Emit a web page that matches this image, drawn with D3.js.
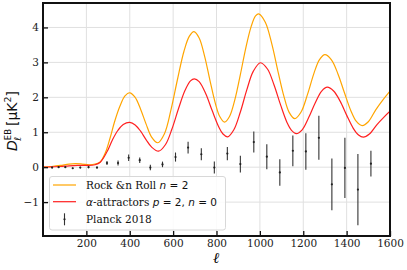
<!DOCTYPE html>
<html>
<head>
<meta charset="utf-8">
<script src="https://cdn.jsdelivr.net/npm/d3@7"></script>
<style>
body { margin: 0; background: #fff; }
svg { display: block; }
.tick text { font-family: "DejaVu Serif", "Liberation Serif", serif; font-size: 10.5px; fill: #222; }
</style>
</head>
<body>
<svg id="chart" width="407" height="270"></svg>
<script>
// multipole l and D_l^EB values
const rockRoll = [
  [0,0.0],[40,0.02],[80,0.05],[120,0.09],[150,0.1],[180,0.09],[215,0.07],[240,0.09],[264,0.15],[288,0.42],
  [310,0.85],[330,1.3],[355,1.75],[378,2.04],[400,2.13],[425,2.0],[450,1.66],[475,1.24],[500,0.87],[529,0.7],
  [560,0.96],[590,1.64],[620,2.51],[650,3.32],[675,3.75],[696,3.88],[720,3.7],[745,3.18],[770,2.48],[795,1.82],
  [815,1.45],[837,1.29],[860,1.45],[885,1.94],[910,2.65],[935,3.41],[960,4.03],[980,4.33],[995,4.39],[1025,4.15],
  [1055,3.53],[1085,2.7],[1110,2.05],[1135,1.57],[1161,1.39],[1190,1.58],[1220,2.09],[1250,2.7],[1275,3.08],[1300,3.22],
  [1330,3.07],[1360,2.67],[1390,2.13],[1420,1.61],[1445,1.31],[1472,1.19],[1500,1.3],[1535,1.65],[1570,1.95],[1600,2.18]
];
const alphaAttr = [
  [0,0.0],[40,0.01],[80,0.02],[120,0.04],[160,0.05],[200,0.05],[240,0.07],[265,0.15],[295,0.44],[320,0.78],
  [345,1.05],[370,1.22],[400,1.28],[425,1.21],[450,1.03],[475,0.79],[500,0.58],[533,0.46],[565,0.65],[595,1.1],
  [625,1.68],[655,2.2],[680,2.47],[698,2.53],[720,2.45],[750,2.11],[780,1.62],[810,1.16],[830,0.95],[852,0.87],
  [880,1.07],[910,1.58],[940,2.22],[970,2.75],[1003,2.99],[1035,2.81],[1065,2.36],[1095,1.79],[1125,1.28],[1145,1.06],
  [1168,0.96],[1195,1.07],[1225,1.42],[1255,1.84],[1285,2.18],[1311,2.29],[1340,2.18],[1370,1.89],[1400,1.49],[1430,1.12],
  [1455,0.92],[1477,0.86],[1505,0.95],[1540,1.22],[1570,1.42],[1600,1.6]
];
// Planck 2018 binned points: l, value, error
const planckL   = [42,72,103,137,172,210,249,295,346,395,446,495,551,611,669,730,790,850,910,972,1032,1092,1152,1212,1272,1332,1392,1452,1512];
const planckVal = [-0.01,0,0,-0.03,-0.01,0,-0.01,0.12,0.12,0.27,0.2,-0.01,0.08,0.29,0.56,0.37,-0.01,0.39,0.09,0.72,0.3,-0.15,0.47,0.45,0.84,-0.49,-0.02,-0.64,0.1];
const planckErr = [0.02,0.02,0.02,0.02,0.02,0.03,0.03,0.06,0.07,0.09,0.08,0.08,0.08,0.13,0.17,0.17,0.17,0.19,0.24,0.3,0.36,0.38,0.44,0.52,0.63,0.74,0.86,1.02,0.37];

const xTicks = [200,400,600,800,1000,1200,1400,1600];
const yTicks = [-1,0,1,2,3,4];

const serif = "'DejaVu Serif', 'Liberation Serif', serif";
const sans = "'DejaVu Sans', sans-serif";

const svg = d3.select("#chart");
const mLeft = 43, mRight = 390, mTop = 3, mBottom = 236;

const x = d3.scaleLinear().domain([0,1600]).range([mLeft,mRight]);
const y = d3.scaleLinear().domain([-1.97,4.7]).range([mBottom,mTop]);

// grid
svg.append("g").selectAll("line").data(xTicks.slice(0,-1)).join("line")
  .attr("x1", d => x(d)).attr("x2", d => x(d)).attr("y1", mTop).attr("y2", mBottom)
  .attr("stroke", "#e0e0e0").attr("stroke-width", 1);
svg.append("g").selectAll("line").data(yTicks).join("line")
  .attr("y1", d => y(d)).attr("y2", d => y(d)).attr("x1", mLeft).attr("x2", mRight)
  .attr("stroke", "#e0e0e0").attr("stroke-width", 1);

svg.append("clipPath").attr("id","clip").append("rect")
  .attr("x", mLeft).attr("y", mTop).attr("width", mRight-mLeft).attr("height", mBottom-mTop);

const line = d3.line().x(d => x(d[0])).y(d => y(d[1])).curve(d3.curveCatmullRom);
const plot = svg.append("g").attr("clip-path","url(#clip)");

plot.append("path").datum(rockRoll).attr("d", line)
  .attr("fill","none").attr("stroke","#ffa500").attr("stroke-width",1.2);
plot.append("path").datum(alphaAttr).attr("d", line)
  .attr("fill","none").attr("stroke","#ff2020").attr("stroke-width",1.2);

// error bars
const pts = planckL.map((l,i) => ({l: l, v: planckVal[i], e: planckErr[i]}));
const eb = plot.append("g").selectAll("g").data(pts).join("g");
eb.append("line")
  .attr("x1", d => x(d.l)).attr("x2", d => x(d.l))
  .attr("y1", d => y(d.v - d.e)).attr("y2", d => y(d.v + d.e))
  .attr("stroke","#333").attr("stroke-width",1.1);
eb.append("circle")
  .attr("cx", d => x(d.l)).attr("cy", d => y(d.v)).attr("r", 1.1)
  .attr("fill","#222");

// axes, ticks pointing inward
const xAxis = svg.append("g").attr("transform", `translate(0,${mBottom})`)
  .call(d3.axisBottom(x).tickValues(xTicks).tickSize(-5).tickPadding(4).tickFormat(d3.format("d")));
const yAxis = svg.append("g").attr("transform", `translate(${mLeft},0)`)
  .call(d3.axisLeft(y).tickValues(yTicks).tickSize(-5).tickPadding(4)
    .tickFormat(d => d < 0 ? "\u2212" + Math.abs(d) : d));
[xAxis, yAxis].forEach(a => {
  a.select(".domain").remove();
  a.selectAll(".tick line").attr("stroke","#111").attr("stroke-width",1.3);
  a.selectAll(".tick text").attr("font-family", serif);
});

svg.append("rect").attr("x", mLeft).attr("y", mTop).attr("width", mRight-mLeft).attr("height", mBottom-mTop)
  .attr("fill","none").attr("stroke","#111").attr("stroke-width",2);

// axis labels
svg.append("text").attr("x", (mLeft+mRight)/2).attr("y", 263).attr("text-anchor","middle")
  .attr("font-family", serif).attr("font-style","italic").attr("font-weight","bold")
  .attr("font-size",15).text("\u2113");

const yl = svg.append("text").attr("transform","translate(17,121) rotate(-90)")
  .attr("text-anchor","middle").attr("font-family", sans).attr("font-size",14).attr("fill","#111");
yl.append("tspan").attr("font-style","italic").text("D");
yl.append("tspan").attr("font-size",8.5).attr("dy",-6).text("EB");
yl.append("tspan").attr("font-size",9.5).attr("font-style","italic").attr("dx",-12).attr("dy",10).text("\u2113");
yl.append("tspan").attr("dx",11).attr("dy",-4).text("[\u03bcK");
yl.append("tspan").attr("font-size",9.5).attr("dy",-6).text("2");
yl.append("tspan").attr("dy",6).text("]");

// legend
const lg = svg.append("g");
lg.append("rect").attr("x",49.5).attr("y",176.5).attr("width",176).attr("height",53.5).attr("rx",2.5)
  .attr("fill","#fff").attr("fill-opacity",0.85).attr("stroke","#d8d8d8").attr("stroke-width",1);
const rows = [185, 201.7, 219.3];
lg.append("line").attr("x1",53).attr("x2",76).attr("y1",rows[0]).attr("y2",rows[0])
  .attr("stroke","#ffa500").attr("stroke-width",1.2);
lg.append("line").attr("x1",53).attr("x2",76).attr("y1",rows[1]).attr("y2",rows[1])
  .attr("stroke","#ff2020").attr("stroke-width",1.2);
lg.append("line").attr("x1",64.5).attr("x2",64.5).attr("y1",rows[2]-6).attr("y2",rows[2]+6)
  .attr("stroke","#333").attr("stroke-width",1.1);
lg.append("circle").attr("cx",64.5).attr("cy",rows[2]).attr("r",1.1).attr("fill","#222");

function legendText(yy, parts) {
  const t = lg.append("text").attr("x",86).attr("y",yy+4).attr("font-size",10.5).attr("fill","#111");
  parts.forEach(p => {
    t.append("tspan").attr("font-family", p.s ? sans : serif)
      .attr("font-style", p.i ? "italic" : "normal").text(p.t);
  });
}
legendText(rows[0], [{t:"Rock &n Roll "},{t:"n",s:1,i:1},{t:" = 2",s:1}]);
legendText(rows[1], [{t:"\u03b1",s:1,i:1},{t:"-attractors "},{t:"p",s:1,i:1},{t:" = 2, ",s:1},{t:"n",s:1,i:1},{t:" = 0",s:1}]);
legendText(rows[2], [{t:"Planck 2018"}]);
</script>
</body>
</html>
